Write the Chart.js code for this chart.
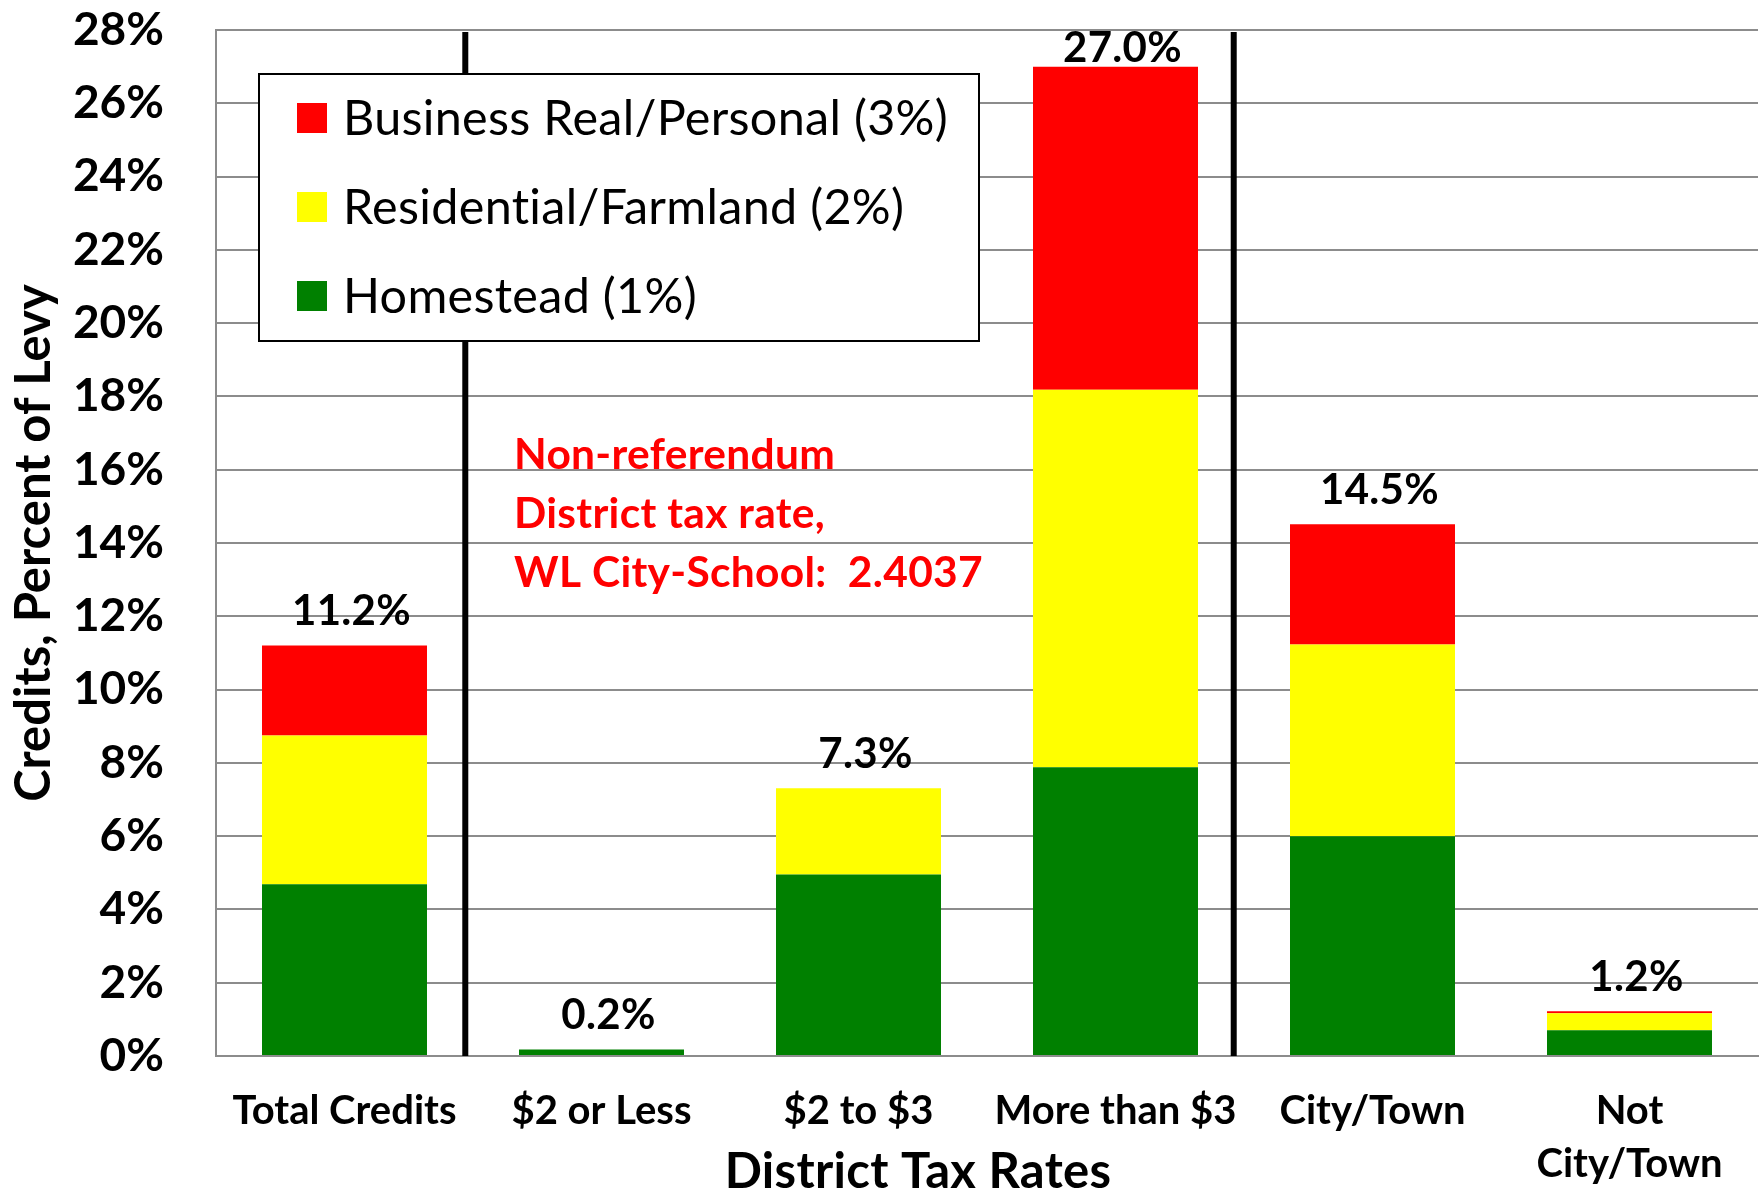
<!DOCTYPE html>
<html>
<head>
<meta charset="utf-8">
<script src="https://cdn.jsdelivr.net/npm/chart.js@4.4.1/dist/chart.umd.min.js"></script>
<style>
  html, body { margin: 0; padding: 0; background: #ffffff; }
  #wrap { width: 1762px; height: 1191px; position: relative; }
</style>
</head>
<body>
<div id="wrap"><canvas id="barChart"></canvas></div>
<script>
// values (percent of levy)
const categories = ["Total Credits", "$2 or Less", "$2 to $3", "More than $3", "City/Town", ["Not", "City/Town"]];
const homestead = [4.69, 0.18, 4.95, 7.88, 6.00, 0.70];
const residential = [4.06, 0, 2.36, 10.30, 5.23, 0.47];
const business = [2.45, 0, 0, 8.82, 3.28, 0.05];
const seriesLabels = ["Homestead (1%)", "Residential/Farmland (2%)", "Business Real/Personal (3%)"];
const seriesColors = ["#008000", "#FFFF00", "#FF0000"];
const yMax = 28;
const yStep = 2;
const separators = [0.47, 3.46]; // category positions of the black divider lines
const noteLines = ["Non-referendum", "District tax rate,", "WL City-School:  2.4037"];
const xTitle = "District Tax Rates";
const yTitle = "Credits, Percent of Levy";

const FONT = "Lato, 'Open Sans', sans-serif";

const overlay = {
    id: "overlay",
    afterDatasetsDraw(chart) {
        const ctx = chart.ctx;
        const x = chart.scales.x;
        const y = chart.scales.y;
        const area = chart.chartArea;
        ctx.save();
        ctx.letterSpacing = "0.3px"; // keeps Lato from joining "ti"

        // divider lines
        ctx.strokeStyle = "#000000";
        ctx.lineWidth = 6;
        separators.forEach(function (s) {
            const px = x.getPixelForValue(s);
            ctx.beginPath();
            ctx.moveTo(px, area.top + 2);
            ctx.lineTo(px, area.bottom);
            ctx.stroke();
        });

        // totals above the bars
        ctx.fillStyle = "#000000";
        ctx.font = "bold 42px " + FONT;
        ctx.textAlign = "center";
        ctx.textBaseline = "middle";
        categories.forEach(function (c, i) {
            const total = homestead[i] + residential[i] + business[i];
            let ty = y.getPixelForValue(total) - 34;
            if (ty < area.top + 18) ty = area.top + 18;
            ctx.fillText(total.toFixed(1) + "%", x.getPixelForValue(i) + 7, ty);
        });

        // legend box
        const lx = area.left + 43, ly = area.top + 44, lw = 720, lh = 267;
        ctx.fillStyle = "#ffffff";
        ctx.fillRect(lx, ly, lw, lh);
        ctx.strokeStyle = "#000000";
        ctx.lineWidth = 2;
        ctx.strokeRect(lx, ly, lw, lh);
        ctx.font = "48.5px " + FONT;
        ctx.textAlign = "left";
        const ds = chart.data.datasets.slice().reverse();
        ds.forEach(function (d, k) {
            const cy = ly + 44 + k * 89;
            ctx.fillStyle = d.backgroundColor;
            ctx.fillRect(lx + 38, cy - 15, 30, 30);
            ctx.fillStyle = "#000000";
            ctx.fillText(d.label, lx + 84, cy + 1);
        });

        // red note
        ctx.fillStyle = "#FF0000";
        ctx.font = "bold 42.5px " + FONT;
        ctx.textBaseline = "alphabetic";
        noteLines.forEach(function (t, k) {
            ctx.fillText(t, area.left + 298, 469 + k * 59);
        });

        // x axis title
        ctx.fillStyle = "#000000";
        ctx.font = "bold 49px " + FONT;
        ctx.textAlign = "center";
        ctx.textBaseline = "middle";
        ctx.fillText(xTitle, area.left + 702, 1172);

        ctx.restore();
    }
};

const canvas = document.getElementById("barChart");
new Chart(canvas.getContext("2d"), {
    type: "bar",
    data: {
        labels: categories,
        datasets: [
            { label: seriesLabels[0], data: homestead, backgroundColor: seriesColors[0] },
            { label: seriesLabels[1], data: residential, backgroundColor: seriesColors[1] },
            { label: seriesLabels[2], data: business, backgroundColor: seriesColors[2] }
        ]
    },
    options: {
        responsive: true,
        maintainAspectRatio: false,
        animation: false,
        categoryPercentage: 1,
        barPercentage: 0.642,
        layout: { padding: { top: 30, right: 4, left: 0, bottom: 0 } },
        plugins: {
            legend: { display: false },
            tooltip: { enabled: false }
        },
        scales: {
            x: {
                stacked: true,
                grid: { display: false, drawTicks: false },
                border: { display: true, color: "#8c8c8c", width: 2 },
                ticks: {
                    color: "#000000",
                    font: { family: FONT, size: 40, weight: "bold", lineHeight: 1.32 },
                    padding: 29,
                    maxRotation: 0,
                    autoSkip: false
                },
                afterFit: function (scale) {
                    scale.height = 135;
                    scale.paddingLeft = 0;
                    scale.paddingRight = 0;
                }
            },
            y: {
                stacked: true,
                min: 0,
                max: yMax,
                grid: { color: "#8c8c8c", lineWidth: 2, drawTicks: false },
                border: { display: true, color: "#8c8c8c", width: 2 },
                ticks: {
                    stepSize: yStep,
                    color: "#000000",
                    font: { family: FONT, size: 46, weight: "bold" },
                    padding: 52,
                    callback: function (v) { return v + "%"; }
                },
                title: {
                    display: true,
                    text: yTitle,
                    color: "#000000",
                    font: { family: FONT, size: 49, weight: "bold", lineHeight: 1.2 },
                    padding: { top: 5, bottom: 0 }
                },
                afterFit: function (scale) {
                    scale.width = 216;
                    scale.paddingTop = 0;
                    scale.paddingBottom = 0;
                }
            }
        }
    },
    plugins: [overlay]
});
</script>
</body>
</html>
